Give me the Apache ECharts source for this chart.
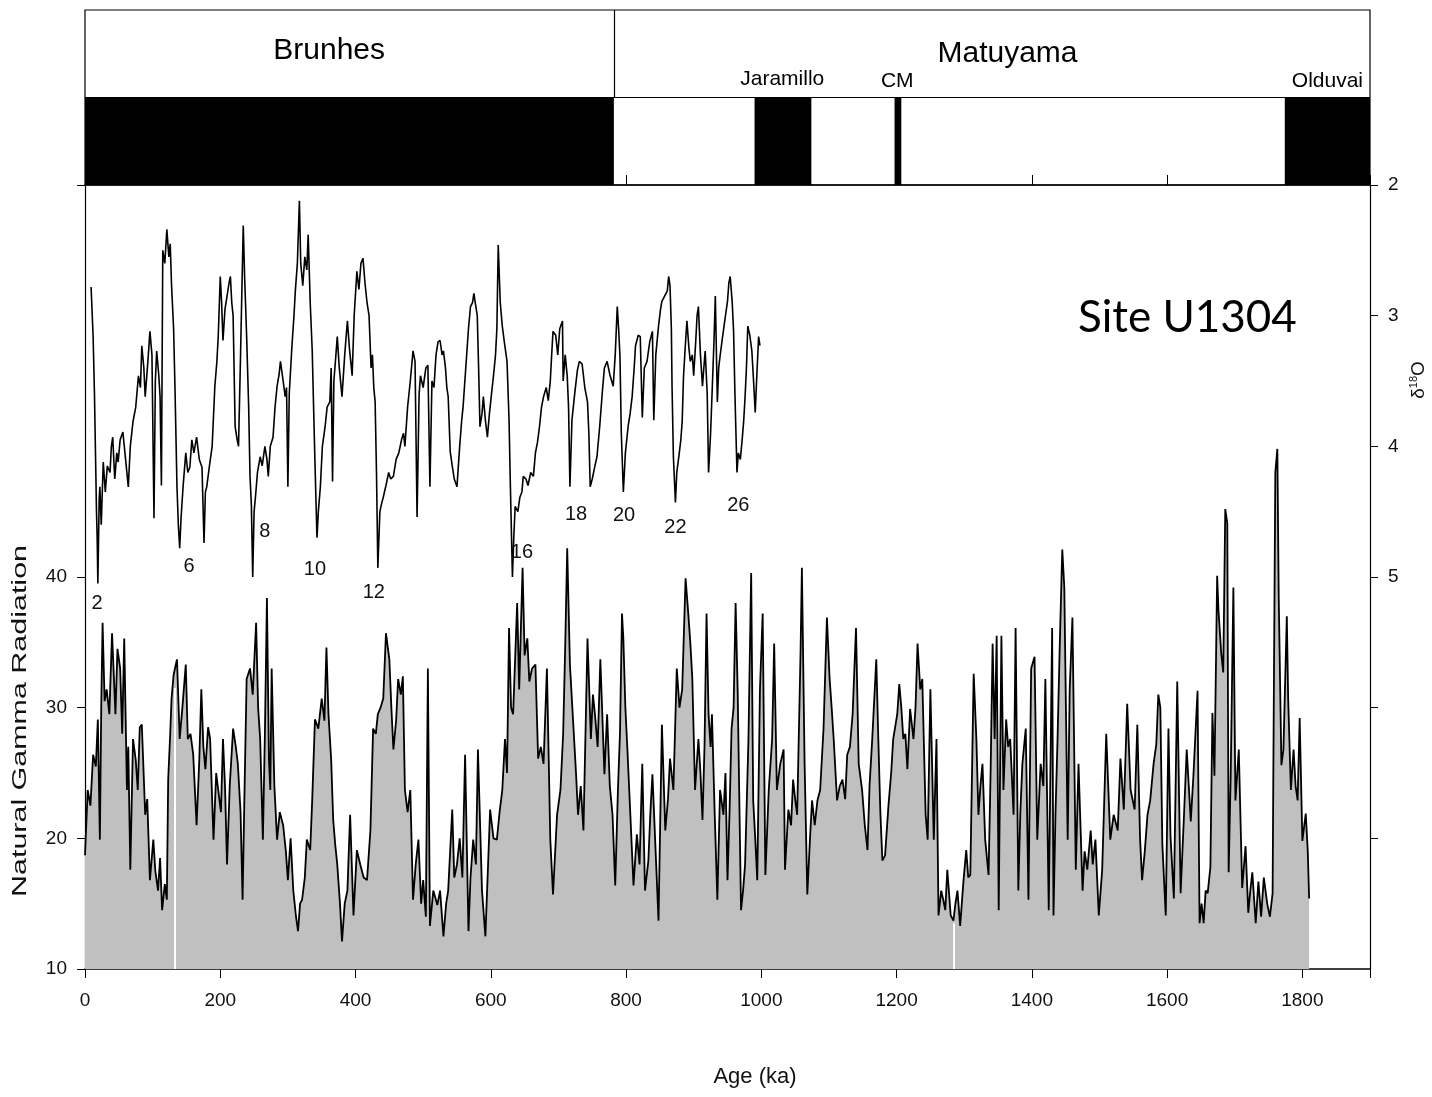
<!DOCTYPE html>
<html><head><meta charset="utf-8">
<script src="https://cdn.jsdelivr.net/npm/echarts@6/dist/echarts.min.js"></script>
<style>html,body{margin:0;padding:0;background:#fff}#c{width:1432px;height:1097px}</style>
</head><body><div id="c"></div>
<script>
// ---------- data ----------
const ageTicks = [0,200,400,600,800,1000,1200,1400,1600,1800];
const gammaTicks = [10,20,30,40];
const d18oTicks = [2,3,4,5];

// normal polarity chrons (ka): start / end
const normalStart = [0, 990, 1197, 1774];
const normalEnd   = [782, 1074, 1207, 1900];
const brunhesMatuyama = 782;

const chronNames  = ['Brunhes','Matuyama','Jaramillo','CM','Olduvai'];
const chronAge    = [361, 1364, 1031, 1201, 1837];
const chronLevel  = [1.54, 1.50, 1.21, 1.19, 1.19];
const chronMajor  = [true, true, false, false, false];

// marine isotope stage labels
const misNames = ['2','6','8','10','12','16','18','20','22','26'];
const misAge   = [18, 154, 266, 340, 427, 646, 726, 797, 873, 966];
const misD18o  = [5.20, 4.92, 4.65, 4.94, 5.12, 4.81, 4.52, 4.53, 4.62, 4.45];

// gaps in the gamma record (white lines in the fill)
const gapAge = [133, 1284];
const gapTop = [31.5, 13.5];

// Natural gamma radiation [age ka, value]
const gammaSeries = [[0,18.7],[4,23.7],[8,22.5],[12,26.4],[16,25.5],[19,29.1],[22,19.9],[24,30],[26,36.5],[29,30.5],[32,31.4],[36,29.5],[40,35.7],[45,29.5],[48,34.5],[52,33.0],[55,28],[58,35.3],[62,23.7],[64,27],[67,17.6],[71,27.6],[75,26],[78,23.7],[81,28.5],[84,28.7],[89,21.8],[92,23],[96,16.8],[101,19.9],[104,17.5],[108,16.0],[111,18.5],[114,14.5],[118,16.5],[121,15.3],[123,24.5],[126,28],[128,30.7],[131,32.5],[133,33.0],[136,33.7],[140,27.6],[144,30],[149,33.3],[152,27.6],[156,28],[160,26.4],[165,21.0],[169,26],[172,31.4],[175,27],[178,25.3],[182,28.5],[185,27.6],[190,19.9],[194,25],[197,23.7],[201,22],[204,27.6],[207,24],[210,18.0],[214,24],[219,28.4],[223,27],[226,25.7],[230,22],[233,15.3],[236,24],[239,32.2],[244,33.0],[248,31],[253,36.5],[256,30],[259,27.6],[263,19.9],[266,28],[269,38.4],[272,26],[274,23.7],[276,33.0],[280,24],[284,19.9],[288,22],[293,21.0],[297,19],[300,16.8],[304,20],[308,16.0],[312,14],[315,12.9],[318,15],[321,15.3],[325,17],[328,19.9],[333,19.1],[336,23],[340,29.1],[345,28.4],[350,30.7],[354,29],[357,34.6],[360,29.5],[364,26],[367,21.4],[370,19.5],[373,18.0],[377,15],[380,12.1],[384,15],[388,16.0],[392,21.8],[397,14.1],[402,19.1],[407,18.0],[412,17],[417,16.8],[422,20.6],[426,28.4],[430,28],[433,29.5],[437,30],[441,30.7],[445,35.7],[450,33.7],[453,30],[456,26.8],[460,29],[463,32.2],[467,31],[470,32.4],[473,23.7],[477,22],[481,23.7],[485,15.3],[489,18],[493,19.9],[497,15],[500,16.8],[504,14],[507,33.0],[510,13.3],[515,16],[521,14.9],[525,16],[530,12.5],[534,15],[537,16.0],[543,22.2],[546,17],[550,18.0],[554,20],[558,17],[562,26.4],[567,12.9],[570,17],[574,19.9],[578,18],[581,26.8],[587,16.0],[592,12.5],[596,18],[599,22.2],[604,20],[609,19.9],[613,22],[617,23.7],[621,27.6],[624,25],[627,36.1],[630,30],[633,29.5],[639,38.0],[642,31.4],[647,40.7],[650,34],[654,35.3],[657,32],[661,33.0],[666,33.3],[670,26.1],[674,27],[678,25.7],[683,33.0],[688,19.9],[692,15.7],[698,21.8],[703,23.7],[707,28],[710,34.6],[713,42.2],[717,33.3],[722,28.7],[726,25],[729,21.8],[733,24],[737,20.6],[743,35.3],[748,27.6],[751,31],[754,29.5],[758,27],[762,33.7],[768,24.9],[772,29.5],[776,24],[780,21.8],[784,16.4],[788,23.7],[791,28],[794,37.2],[796,35.3],[799,30],[802,26.8],[806,22.2],[811,16.4],[816,20.3],[820,18],[824,25.7],[828,16.0],[833,18.3],[836,22],[839,24.9],[843,19.9],[848,13.7],[853,28.7],[858,20.6],[862,23],[865,26.1],[870,23.7],[875,33.0],[879,30],[883,31.4],[888,39.9],[892,37.2],[895,35],[898,32.2],[902,23.7],[907,27.6],[910,25],[913,21.4],[916,27],[919,37.2],[922,29.5],[925,27],[927,29.5],[931,22],[935,15.3],[939,23.7],[944,21.8],[947,25],[950,16.8],[953,22],[956,28.4],[959,30],[962,38.0],[965,31.4],[970,14.5],[973,16],[976,18.0],[981,27.6],[985,40.3],[988,22.9],[991,20],[994,16.8],[998,31.4],[1002,37.2],[1006,17.2],[1011,23.7],[1016,27.6],[1019,34.9],[1023,23.7],[1028,25.7],[1033,26.8],[1035,17.6],[1040,22.2],[1044,21],[1047,24.5],[1050,23],[1053,21.8],[1058,34.2],[1060,40.7],[1064,25.7],[1068,15.7],[1072,20],[1075,22.9],[1079,21],[1083,22.9],[1087,23.7],[1092,28.4],[1097,36.9],[1101,32.2],[1104,30],[1107,27.6],[1112,22.9],[1116,24],[1120,24.5],[1124,23],[1127,26.4],[1131,27],[1135,29.5],[1140,36.1],[1144,25.7],[1149,23.7],[1153,21],[1157,19.1],[1160,24],[1164,27.6],[1170,33.7],[1173,27.6],[1176,22],[1179,18.3],[1183,18.7],[1188,22.5],[1192,25],[1195,27.6],[1201,29.5],[1204,31.8],[1207,30],[1210,27.6],[1213,28],[1216,25.3],[1220,29.9],[1225,27.6],[1228,30],[1231,34.9],[1235,31.4],[1238,32.2],[1243,21.8],[1246,19.9],[1250,31.4],[1255,19.9],[1259,27.6],[1262,14.1],[1266,16],[1269,15.3],[1272,14.5],[1275,17.6],[1280,14.1],[1284,13.7],[1287,15],[1290,16.0],[1294,13.3],[1299,16.8],[1303,19.1],[1306,17],[1309,17.2],[1314,32.6],[1318,27.6],[1321,21.8],[1324,24],[1327,25.7],[1331,19.9],[1336,17.2],[1339,25],[1342,34.9],[1345,27.6],[1348,35.5],[1351,14.5],[1355,35.5],[1358,23.7],[1362,29.1],[1365,27],[1368,27.6],[1373,21.8],[1376,36.1],[1380,16.0],[1383,22],[1386,25.7],[1391,28.4],[1395,15.3],[1399,33.0],[1404,33.9],[1408,19.9],[1413,25.7],[1417,24],[1420,32.2],[1425,14.5],[1430,36.1],[1432,14.1],[1435,22],[1438,27.6],[1441,34.2],[1445,42.1],[1448,39.2],[1453,19.9],[1456,31.4],[1460,36.9],[1465,17.6],[1469,25.7],[1475,16.0],[1478,19],[1482,17.6],[1487,20.6],[1490,18],[1494,19.9],[1499,14.1],[1504,17.6],[1510,28.0],[1516,19.9],[1521,21.8],[1527,20.6],[1531,26.1],[1536,22.2],[1541,30.3],[1546,23.7],[1552,22.2],[1556,28.7],[1560,20],[1563,16.8],[1567,19],[1571,21.8],[1575,22.9],[1580,25.7],[1584,27.2],[1587,31.0],[1590,30],[1593,19.5],[1598,14.1],[1602,28.4],[1605,20.2],[1610,15.4],[1615,32.0],[1620,15.8],[1625,21.8],[1629,26.8],[1635,21.3],[1639,24.9],[1645,31.3],[1648,13.5],[1651,15],[1654,13.5],[1657,16],[1660,15.8],[1664,17.8],[1667,29.6],[1670,24.8],[1674,40.1],[1676,37.4],[1680,34.2],[1683,32.7],[1686,45.2],[1689,44.1],[1691,17.4],[1694,24.8],[1698,39.2],[1701,22.9],[1706,26.8],[1711,16.2],[1716,19.4],[1720,14.3],[1723,16],[1726,17.4],[1731,13.5],[1735,16.7],[1739,14],[1743,17.0],[1748,15.0],[1752,14],[1756,15.8],[1757,24.5],[1760,48.0],[1763,49.8],[1765,38.6],[1769,25.6],[1772,26.8],[1777,37.0],[1779,30.7],[1783,23.7],[1787,26.8],[1790,24],[1793,22.9],[1796,29.2],[1800,19.8],[1805,21.9],[1808,19.0],[1810,15.4]];

// benthic d18O [age ka, permil]
const d18oSeries = [[9,2.78],[10,2.79],[12,3.16],[14,3.6],[15,3.9],[17,4.5],[18,4.7],[19,5.05],[21,4.4],[22,4.31],[24,4.6],[27,4.12],[30,4.35],[33,4.15],[37,4.2],[39,4.0],[41,3.93],[44,4.25],[47,4.05],[49,4.12],[52,3.95],[56,3.89],[60,4.1],[64,4.31],[67,4.0],[71,3.81],[75,3.7],[79,3.46],[82,3.55],[84,3.23],[87,3.4],[89,3.62],[93,3.35],[96,3.12],[99,3.3],[102,4.55],[104,3.5],[106,3.27],[109,3.45],[111,3.62],[113,4.3],[115,2.5],[118,2.6],[121,2.34],[124,2.55],[126,2.45],[128,2.77],[131,3.1],[133,3.54],[136,4.31],[138,4.6],[140,4.78],[142,4.55],[145,4.31],[149,4.05],[152,4.2],[155,4.16],[158,3.95],[161,4.05],[165,3.93],[169,4.1],[173,4.16],[176,4.74],[178,4.35],[180,4.31],[184,4.15],[188,4.0],[192,3.54],[195,3.35],[197,3.16],[200,2.7],[202,2.9],[204,3.19],[207,2.95],[210,2.85],[213,2.75],[215,2.7],[217,2.9],[219,3.0],[222,3.85],[225,3.95],[227,4.0],[230,3.3],[232,2.8],[234,2.31],[236,2.7],[239,3.16],[242,3.7],[244,4.23],[246,4.45],[248,5.0],[250,4.5],[252,4.39],[255,4.2],[259,4.08],[262,4.15],[266,4.0],[269,4.1],[271,4.23],[274,4.0],[278,3.93],[281,3.7],[284,3.54],[287,3.45],[289,3.35],[293,3.5],[296,3.62],[298,3.55],[300,4.31],[302,3.6],[306,3.23],[309,3.0],[311,2.81],[314,2.6],[317,2.12],[319,2.6],[322,2.77],[325,2.55],[328,2.65],[330,2.38],[333,2.9],[336,3.27],[338,3.7],[340,4.12],[343,4.7],[345,4.5],[348,4.31],[351,4.0],[355,3.85],[358,3.7],[362,3.66],[364,3.4],[366,4.27],[368,3.5],[371,3.3],[373,3.16],[376,3.4],[380,3.62],[384,3.3],[388,3.04],[391,3.25],[395,3.46],[398,3.0],[402,2.66],[405,2.8],[408,2.6],[411,2.56],[414,2.75],[417,2.9],[420,3.0],[423,3.4],[425,3.3],[427,3.55],[429,3.66],[431,4.2],[433,4.93],[436,4.5],[438,4.45],[441,4.39],[445,4.3],[449,4.2],[452,4.25],[456,4.23],[460,4.1],[464,4.05],[468,3.95],[471,3.9],[473,4.0],[477,3.7],[481,3.5],[485,3.27],[488,3.35],[491,4.54],[494,3.6],[496,3.46],[500,3.55],[504,3.4],[507,3.38],[510,4.31],[513,3.5],[516,3.55],[519,3.3],[522,3.2],[525,3.19],[528,3.3],[530,3.27],[533,3.4],[535,3.55],[537,3.62],[540,4.04],[543,4.15],[546,4.25],[550,4.31],[554,4.0],[557,3.8],[559,3.7],[563,3.4],[567,3.1],[570,2.93],[573,2.9],[575,2.83],[577,2.9],[580,3.0],[582,3.4],[584,3.85],[587,3.75],[589,3.62],[592,3.8],[595,3.93],[598,3.75],[601,3.6],[604,3.46],[607,3.3],[609,3.1],[611,2.46],[614,2.9],[617,3.08],[620,3.2],[624,3.35],[627,3.8],[629,4.31],[632,5.0],[634,4.7],[636,4.46],[640,4.5],[643,4.39],[646,4.35],[648,4.23],[652,4.25],[655,4.3],[659,4.2],[663,4.23],[666,4.05],[669,3.97],[672,3.85],[675,3.7],[678,3.62],[682,3.55],[685,3.65],[688,3.5],[690,3.3],[692,3.12],[696,3.15],[699,3.3],[702,3.1],[706,3.04],[707,3.5],[710,3.3],[713,3.46],[715,3.7],[717,4.31],[720,3.8],[724,3.6],[728,3.42],[731,3.35],[735,3.37],[739,3.55],[743,3.66],[745,3.9],[747,4.31],[750,4.25],[754,4.15],[757,4.08],[761,3.85],[765,3.58],[768,3.4],[772,3.35],[776,3.45],[781,3.54],[784,3.3],[787,2.93],[789,3.1],[791,3.31],[793,3.9],[796,4.35],[799,4.05],[803,3.85],[806,3.75],[809,3.62],[812,3.4],[814,3.23],[818,3.15],[821,3.16],[824,3.78],[827,3.4],[831,3.35],[835,3.2],[839,3.12],[841,3.8],[844,3.3],[848,3.08],[851,2.95],[853,2.89],[857,2.85],[861,2.81],[863,2.7],[865,2.77],[867,3.1],[868,3.54],[870,4.08],[873,4.43],[875,4.2],[878,4.08],[881,3.95],[883,3.81],[885,3.46],[888,3.2],[890,3.04],[893,3.25],[895,3.35],[898,3.3],[900,3.46],[903,3.2],[905,3.0],[907,2.93],[910,3.3],[913,3.54],[915,3.4],[917,3.27],[920,3.6],[922,4.2],[925,3.9],[927,3.62],[930,3.2],[932,2.85],[935,3.66],[937,3.4],[939,3.31],[943,3.15],[947,3.0],[950,2.89],[952,2.75],[954,2.7],[957,2.9],[959,3.12],[961,3.6],[964,4.2],[966,4.05],[969,4.1],[972,3.93],[974,3.8],[976,3.62],[978,3.4],[980,3.08],[983,3.15],[986,3.27],[988,3.45],[991,3.74],[993,3.5],[996,3.16],[998,3.23]];

// ---------- chart ----------
const NARROW = "'Liberation Sans Narrow', 'Liberation Sans', Arial, sans-serif";
const SANS = "'Liberation Sans', Arial, sans-serif";
const chart = echarts.init(document.getElementById('c'), null, {renderer: 'canvas'});
const plain = v => String(v);

const option = {
  animation: false,
  backgroundColor: '#fff',
  grid: [
    {left: 85, right: 62, top: 10, height: 175, show: true, borderColor: '#000', borderWidth: 1.2, backgroundColor: 'transparent'},
    {left: 85, right: 62, top: 185, height: 784, show: false}
  ],
  xAxis: [
    {gridIndex: 0, type: 'value', min: 0, max: 1900, interval: 200,
     axisLine: {show: true, onZero: false, lineStyle: {color: '#000', width: 1.5}},
     axisTick: {show: true, inside: true, length: 10, lineStyle: {color: '#000', width: 1}},
     axisLabel: {show: false}, splitLine: {show: false}},
    {gridIndex: 1, type: 'value', min: 0, max: 1900, interval: 200,
     axisLine: {show: true, onZero: false, lineStyle: {color: '#000', width: 1.5}},
     axisTick: {show: true, length: 9, lineStyle: {color: '#000', width: 1}},
     axisLabel: {show: true, margin: 22, color: '#111', fontFamily: NARROW, fontSize: 19,
                 customValues: ageTicks, formatter: plain},
     splitLine: {show: false}}
  ],
  yAxis: [
    {gridIndex: 0, type: 'value', min: 0, max: 2, show: false},
    {gridIndex: 1, type: 'value', min: 10, max: 70, interval: 10, position: 'left',
     axisLine: {show: true, onZero: false, lineStyle: {color: '#000', width: 1.2}},
     axisTick: {show: true, length: 8, customValues: gammaTicks.concat([70]), lineStyle: {color: '#000'}},
     axisLabel: {show: true, margin: 18, color: '#111', fontFamily: NARROW, fontSize: 19, customValues: gammaTicks, formatter: plain},
     splitLine: {show: false}},
    {gridIndex: 1, type: 'value', min: 2, max: 8, interval: 1, position: 'right', inverse: true,
     axisLine: {show: true, onZero: false, lineStyle: {color: '#000', width: 1.2}},
     axisTick: {show: true, length: 8, customValues: [2,3,4,5,6,7], lineStyle: {color: '#000'}},
     axisLabel: {show: true, margin: 18, color: '#111', fontFamily: NARROW, fontSize: 19, customValues: d18oTicks, formatter: plain},
     splitLine: {show: false}}
  ],
  series: [
    {
      type: 'custom', xAxisIndex: 0, yAxisIndex: 0, silent: true, z: 5,
      data: normalStart.map((s, i) => [s, normalEnd[i]]),
      encode: {x: [0, 1]},
      renderItem: function (params, api) {
        const a = api.coord([api.value(0), 1]);
        const b = api.coord([api.value(1), 0]);
        return {type: 'rect', shape: {x: a[0], y: a[1], width: b[0] - a[0], height: b[1] - a[1]},
                style: {fill: '#000'}};
      },
      markLine: {
        silent: true, symbol: 'none', label: {show: false},
        lineStyle: {color: '#000', width: 1.2, type: 'solid'},
        data: [
          [{coord: [0, 1]}, {coord: [1900, 1]}],
          [{coord: [brunhesMatuyama, 1]}, {coord: [brunhesMatuyama, 2]}]
        ]
      }
    },
    {
      type: 'scatter', xAxisIndex: 0, yAxisIndex: 0, silent: true, symbolSize: 1, z: 6,
      itemStyle: {color: 'rgba(0,0,0,0)'},
      data: chronNames.map((n, i) => ({
        name: n, value: [chronAge[i], chronLevel[i]],
        label: {fontSize: chronMajor[i] ? 30 : 21}
      })),
      label: {show: true, position: 'inside', formatter: '{b}', color: '#000', opacity: 1,
              textBorderWidth: 0, fontFamily: NARROW}
    },
    {
      type: 'line', xAxisIndex: 1, yAxisIndex: 1, silent: true, symbol: 'none', sampling: null,
      data: gammaSeries,
      lineStyle: {color: '#000', width: 1.8},
      areaStyle: {color: '#c0c0c0', opacity: 1, origin: 'start'},
      markLine: {
        silent: true, symbol: 'none', label: {show: false},
        lineStyle: {color: '#fff', width: 2, type: 'solid'},
        data: gapAge.map((g, i) => [{coord: [g, 10]}, {coord: [g, gapTop[i]]}])
      },
      z: 3
    },
    {
      type: 'line', xAxisIndex: 1, yAxisIndex: 2, silent: true, symbol: 'none',
      data: d18oSeries,
      lineStyle: {color: '#000', width: 1.6},
      z: 4
    },
    {
      type: 'scatter', xAxisIndex: 1, yAxisIndex: 2, silent: true, symbolSize: 1, z: 6,
      itemStyle: {color: 'rgba(0,0,0,0)'},
      data: misNames.map((n, i) => ({name: n, value: [misAge[i], misD18o[i]]})),
      label: {show: true, position: 'inside', formatter: '{b}', color: '#111', opacity: 1,
              textBorderWidth: 0, fontFamily: NARROW, fontSize: 20}
    }
  ],
  graphic: [
    {type: 'text', x: 20, y: 721, rotation: Math.PI / 2, scaleX: 1.45, silent: true,
     style: {text: 'Natural Gamma Radiation', fontSize: 21, fontFamily: SANS, fill: '#111',
             align: 'center', verticalAlign: 'middle'}},
    {type: 'text', x: 1419, y: 380, rotation: Math.PI / 2, silent: true,
     style: {text: 'δ{s|18}O', fontSize: 19, fontFamily: SANS, fill: '#111',
             align: 'center', verticalAlign: 'middle',
             rich: {s: {fontSize: 11, fontFamily: SANS, fill: '#111', verticalAlign: 'top', lineHeight: 22}}}},
    {type: 'text', x: 755, y: 1077, silent: true,
     style: {text: 'Age (ka)', fontSize: 22, fontFamily: NARROW, fill: '#111',
             align: 'center', verticalAlign: 'middle'}},
    {type: 'text', x: 1078, y: 318, silent: true,
     style: {text: 'Site U1304', fontSize: 44, fontFamily: "Lato, 'Open Sans', sans-serif", fill: '#000',
             align: 'left', verticalAlign: 'middle'}}
  ]
};
chart.setOption(option);
</script></body></html>
